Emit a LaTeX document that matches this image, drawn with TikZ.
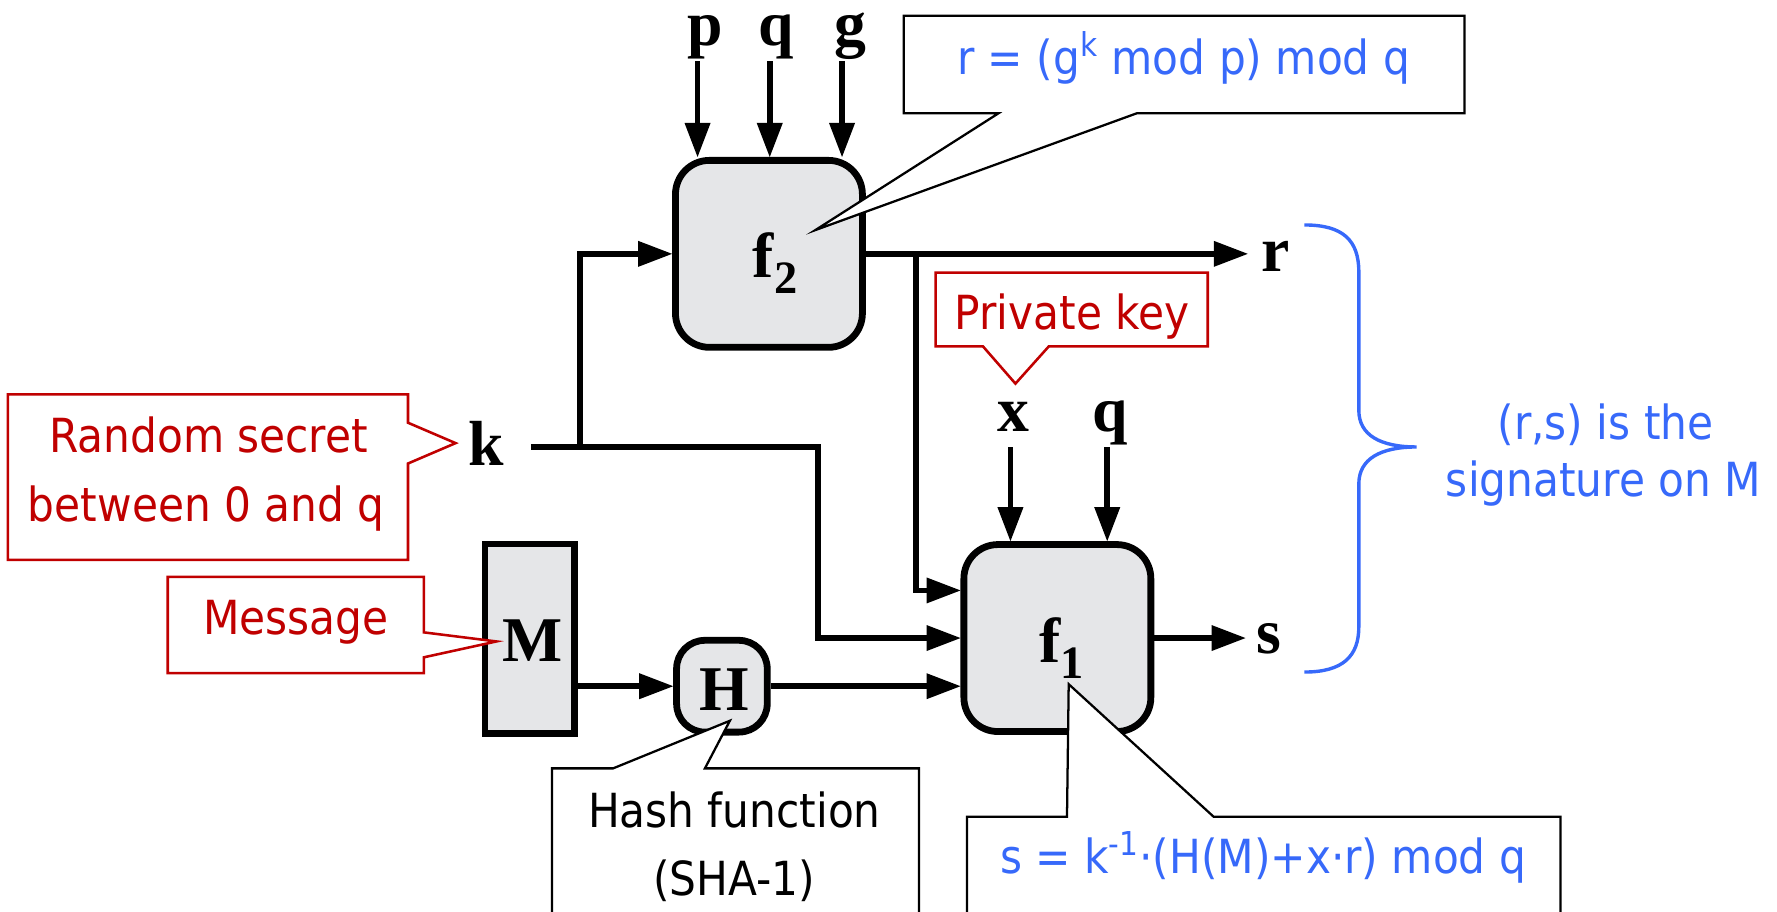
\documentclass[tikz,border=0pt]{standalone}
\usepackage{fontspec}
\setmainfont{DejaVu Sans}[FakeStretch=0.9]
\newfontfamily\lblfont{Liberation Serif}
\usetikzlibrary{arrows.meta,calc}
\definecolor{boxgray}{RGB}{229,230,232}
\definecolor{callred}{RGB}{192,0,0}
\definecolor{callblue}{RGB}{55,105,250}
\newcommand\lowsub[1]{\raisebox{-8pt}{\fontsize{23.3}{26}\selectfont #1}}
\begin{document}
\begin{tikzpicture}[x=0.02cm,y=-0.02cm,
  wire/.style={line width=0.1cm},
  arr/.style={wire,-{Triangle[length=0.6cm,width=0.46cm,line width=0pt]}},
  fbox/.style={draw,line width=0.12cm,fill=boxgray,rounded corners=0.6cm,inner sep=0pt,minimum width=3.3cm,minimum height=3.3cm},
  lbl/.style={font=\lblfont\bfseries\fontsize{32}{36}\selectfont,inner sep=0pt,anchor=base},
  ctext/.style={font=\fontsize{23.6}{28}\selectfont,inner sep=0pt,anchor=base},
  bluebox/.style={draw=black,line width=0.04cm,fill=white},
  redbox/.style={draw=callred,line width=0.045cm,fill=white},
  bracestyle/.style={draw=callblue,line width=0.06cm}
]
\useasboundingbox (0,0) rectangle (1568,804);
\clip (0,0) rectangle (1568,804);

% boxes
\node[fbox] (f2) at (678.5,224) {};
\node[fbox] (f1) at (933,563) {};
\node[draw,line width=0.12cm,fill=boxgray,inner sep=0pt,minimum width=1.58cm,minimum height=3.34cm] (mbox) at (467.5,563.5) {};
\node[draw,line width=0.12cm,fill=boxgray,rounded corners=0.5cm,inner sep=0pt,minimum width=1.6cm,minimum height=1.62cm] (hbox) at (637,605.5) {};

% coordinates
\coordinate (pin) at (615.5,54);
\coordinate (qin) at (679.2,54);
\coordinate (gin) at (743,54);
\coordinate (xin) at (891.6,394.5);
\coordinate (qin2) at (977,394.5);
\coordinate (kout) at (468.5,394.6);
\coordinate (kj) at (511.5,394.6);
\coordinate (kturn) at (721.7,394.6);
\coordinate (rj) at (808,224);
\coordinate (rtip) at (1101,224);
\coordinate (stip) at (1099,563);

% wires
\draw[arr] (pin) -- (pin |- f2.north);
\draw[arr] (qin) -- (qin |- f2.north);
\draw[arr] (gin) -- (gin |- f2.north);
\draw[arr] (xin) -- (xin |- f1.north);
\draw[arr] (qin2) -- (qin2 |- f1.north);
\draw[arr] (kout) -- (kturn) |- (f1.west);
\draw[arr] (kj) |- (f2.west);
\draw[arr] (f2.east) -- (rtip);
\draw[arr] (rj) |- ($(f1.west)+(0,-42)$);
\draw[arr] (mbox.east |- hbox.west) -- (hbox.west);
\draw[arr] (hbox.east) -- (hbox.east -| f1.west);
\draw[arr] (f1.east) -- (stip);

% brace
\draw[bracestyle] (1151,198.5) .. controls (1185,198.5) and (1199,212) .. (1199,240) -- (1199,362)
  .. controls (1199,384) and (1218,394.4) .. (1250,394.4)
  .. controls (1218,394.4) and (1199,405) .. (1199,427) -- (1199,553)
  .. controls (1199,579) and (1185,593) .. (1151,593);

% callouts
\draw[bluebox] (797.4,14) -- (1292.3,14) -- (1292.3,100) -- (1003,100) -- (719.5,203) -- (881,100) -- (797.4,100) -- cycle;
\draw[redbox] (825.5,240.5) -- (1065.7,240.5) -- (1065.7,305.7) -- (925.4,305.7) -- (896,338.5) -- (867.4,305.7) -- (825.5,305.7) -- cycle;
\draw[redbox] (7,348) -- (360,348) -- (360,373) -- (402,391) -- (360,409) -- (360,494) -- (7,494) -- cycle;
\draw[redbox] (148,509) -- (374,509) -- (374,558) -- (438,566) -- (374,580) -- (374,594) -- (148,594) -- cycle;
\draw[bluebox] (487,678) -- (541,678) -- (644,636) -- (622,678) -- (811,678) -- (811,820) -- (487,820) -- cycle;
\draw[bluebox] (853.3,720.6) -- (941.5,720.6) -- (943,603.7) -- (1070.8,720.6) -- (1377,720.6) -- (1377,820) -- (853.3,820) -- cycle;

% callout texts
\node[ctext,callblue] (rform) at (1044.4,65.3) {r = (g\textsuperscript{k} mod p) mod q};
\node[ctext,callred] (pk) at (946,291) {Private key};
\node[ctext,callred] (rs1) at (184,399) {Random secret};
\node[ctext,callred] (rs2) at (182,460) {between 0 and q};
\node[ctext,callred] (msg) at (261,559.5) {Message};
\node[ctext] (hf1) at (648,730) {Hash function};
\node[ctext] (hf2) at (648,790) {(SHA-1)};
\node[ctext,callblue] (sform) at (1114.5,770.6) {s = k\textsuperscript{-1}·(H(M)+x·r) mod q};
\node[ctext,callblue] (sig1) at (1416.7,387.7) {(r,s) is the};
\node[ctext,callblue] (sig2) at (1415,438.5) {signature on M};

% labels
\node[lbl] (plbl) at (622,40) {p};
\node[lbl] (qlbl) at (685,40) {q};
\node[lbl] (glbl) at (750,40) {g};
\node[lbl] (klbl) at (429,411) {k};
\node[lbl] (xlbl) at (894,381) {x};
\node[lbl] (qlbl2) at (980,381) {q};
\node[lbl] (rlbl) at (1126,239.7) {r};
\node[lbl] (slbl) at (1120,576.5) {s};
\node[lbl] (f2t) at (684,245) {f\lowsub{2}};
\node[lbl] (f1t) at (937,585) {f\lowsub{1}};
\node[lbl] (mt) at (470,584) {M};
\node[lbl] (ht) at (639,626.5) {H};
\end{tikzpicture}
\end{document}
